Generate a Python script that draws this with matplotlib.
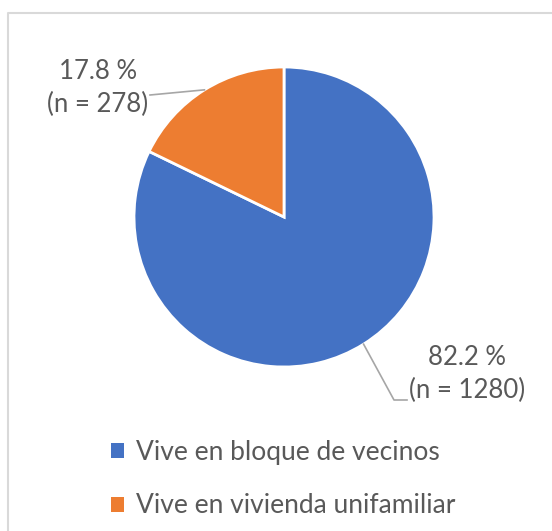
import matplotlib.pyplot as plt
import numpy as np
from matplotlib.patches import Patch

categories = ["Vive en bloque de vecinos", "Vive en vivienda unifamiliar"]
shares = [82.2, 17.8]
counts = [1280, 278]
colors = ["#4472C4", "#ED7D31"]

W, H = 552, 531
text_col = "#595959"
plt.rcParams['font.family'] = ['Lato', 'DejaVu Sans']

fig = plt.figure(figsize=(W / 100, H / 100), dpi=100)
ax = fig.add_axes([0, 0, 1, 1])

cx, cy, r = 284, H - 217, 150
wedges, _ = ax.pie(shares, colors=colors, startangle=90, counterclock=False,
                   center=(cx, cy), radius=r,
                   wedgeprops=dict(edgecolor="white", linewidth=2))
ax.set_xlim(0, W)
ax.set_ylim(0, H)
ax.set_aspect('equal')
ax.axis('off')

# chart frame (only top and left edges show in the crop)
ax.plot([8, 8, W], [0, H - 13, H - 13], color="#D9D9D9", lw=1.5)

def edge_point(w):
    a = np.deg2rad((w.theta1 + w.theta2) / 2)
    return cx + r * np.cos(a), cy + r * np.sin(a)

# labels: blue one lower right, orange one upper left
lab_pos = [(467, H - 374), (98, H - 88)]
for w, s, n, (tx, ty) in zip(wedges, shares, counts, lab_pos):
    ax.text(tx, ty, f"{s} %\n(n = {n})", ha="center", va="center",
            fontsize=18.5, color=text_col, linespacing=1.35)

# leader lines
x0, y0 = edge_point(wedges[0])
ax.plot([x0, 394, 407], [y0, H - 400, H - 400], color="#A6A6A6", lw=1.2)
x1, y1 = edge_point(wedges[1])
ax.plot([x1, 150], [y1, H - 95], color="#A6A6A6", lw=1.2)

handles = [Patch(facecolor=c, edgecolor="none") for c in colors]
fig.legend(handles, categories, loc="upper left", bbox_to_anchor=(103 / W, 1 - 432 / H),
           frameon=False, fontsize=19, handlelength=0.5, handleheight=0.5,
           handletextpad=0.45, labelspacing=1.08, labelcolor=text_col,
           borderaxespad=0, borderpad=0.3)

fig.savefig("out.png", dpi=100)
